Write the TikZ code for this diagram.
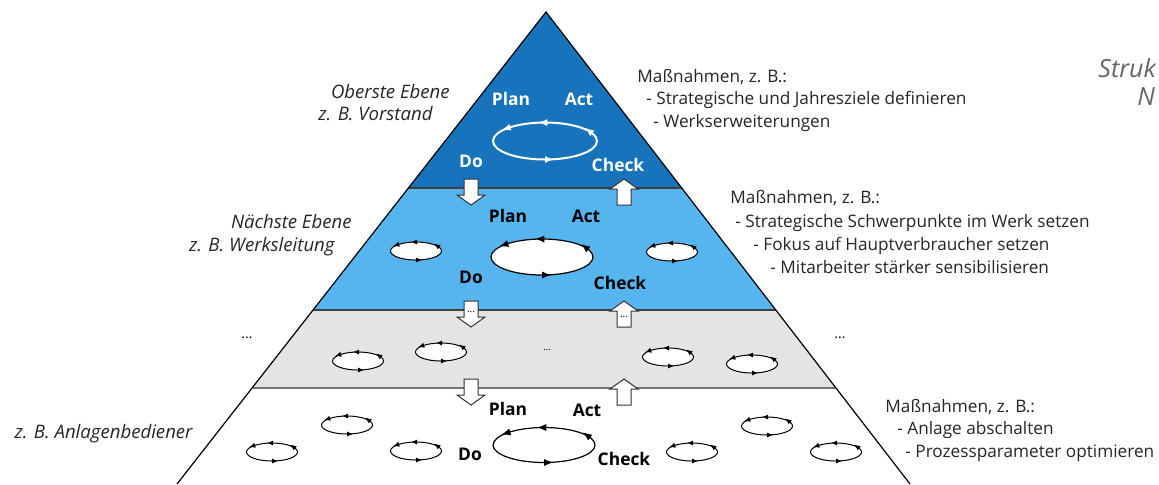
\documentclass[tikz,border=0pt]{standalone}
\usepackage{fontspec}
\setmainfont{Open Sans}
\usetikzlibrary{arrows.meta,decorations.markings}

\definecolor{topblue}{RGB}{22,115,188}
\definecolor{midblue}{RGB}{86,180,238}
\definecolor{lvlgray}{RGB}{228,228,228}

\begin{document}
\begin{tikzpicture}[
    x=0.5pt, y=-0.5pt,
    txt/.style={font=\fontsize{8.6}{10}\selectfont, text=black!85, anchor=base west, inner sep=0},
    lvl/.style={font=\fontsize{9.3}{11}\selectfont\itshape, text=black!85, anchor=base east, inner sep=0},
    pdca/.style={font=\fontsize{8.7}{10}\selectfont\bfseries, anchor=base, inner sep=0},
    dots/.style={font=\fontsize{5}{6}\selectfont, inner sep=0},
    blk/.style={draw=black!80, fill=white, line width=0.5pt},
    cyc/.style={postaction={decorate}, decoration={markings,
        mark=at position 0.25 with {\arrow{<}},
        mark=at position 0.6 with {\arrow{<}},
        mark=at position 0.76 with {\arrow{<}},
        mark=at position 0.96 with {\arrow{<}}}},
    minicycle/.style={cyc, draw=black, fill=white, line width=0.5pt, >={Latex[length=3pt,width=2.6pt]}},
    maincycle/.style={cyc, draw=black, line width=0.6pt, >={Latex[length=4.5pt,width=3.6pt]}}
]
\useasboundingbox (0,0) rectangle (1159,484);
\fill[white] (0,0) rectangle (1159,484);

\coordinate (apex) at (546,12);
\coordinate (bl) at (177,484);
\coordinate (br) at (910,484);

% levels of the pyramid
\begin{scope}
  \clip (apex) -- (bl) -- (br) -- cycle;
  \fill[topblue] (0,0) rectangle (1159,188);
  \fill[midblue] (0,188) rectangle (1159,310);
  \fill[lvlgray] (0,310) rectangle (1159,388);
  \draw[black!75, line width=0.6pt] (0,188) -- (1159,188);
  \draw[black!75, line width=0.6pt] (0,310) -- (1159,310);
  \draw[black!55, line width=0.6pt] (0,388) -- (1159,388);
\end{scope}
\draw[line width=0.6pt] (bl) -- (apex) -- (br);

% block arrows between the levels
\foreach \b in {188,310,388} {
  \draw[blk] (464,\b-9) -- (478,\b-9) -- (478,\b+7) -- (485,\b+7) -- (471,\b+17) -- (457,\b+7) -- (464,\b+7) -- cycle;
  \draw[blk] (617,\b+17) -- (631,\b+17) -- (631,\b+1) -- (638,\b+1) -- (624,\b-9) -- (610,\b+1) -- (617,\b+1) -- cycle;
}
\node[dots] (dn2) at (471,312) {...};
\node[dots] (up2) at (624,317) {...};

% PDCA cycles
\draw[maincycle, draw=white, line width=1pt] (545,141) ellipse [x radius=52, y radius=18.5];
\draw[maincycle, fill=white] (542,257) ellipse [x radius=51, y radius=18];
\draw[maincycle] (544,445) ellipse [x radius=51, y radius=17.5];
\foreach \cx/\cy in {416/251, 672/252,
                     358/361, 441/352, 668/357, 752/364,
                     272/452, 347/425, 416/451, 692/452, 767/426, 836/452}
  \draw[minicycle] (\cx,\cy) ellipse [x radius=25.5, y radius=9];

% PDCA labels
\node[pdca, text=white] (plan1) at (511,105) {Plan};
\node[pdca, text=white] (act1) at (579,105) {Act};
\node[pdca, text=white] (do1) at (471,167) {Do};
\node[pdca, text=white] (check1) at (618,171) {Check};
\node[pdca] (plan2) at (508,222) {Plan};
\node[pdca] (act2) at (586,222) {Act};
\node[pdca] (do2) at (471,283) {Do};
\node[pdca] (check2) at (620,289) {Check};
\node[pdca] (plan4) at (508,415) {Plan};
\node[pdca] (act4) at (587,416) {Act};
\node[pdca] (do4) at (470,460) {Do};
\node[pdca] (check4) at (624,465) {Check};

% level names
\node[lvl] (top1) at (450,98) {Oberste Ebene};
\node[lvl] (top2) at (433,120) {z. B. Vorstand};
\node[lvl] (next1) at (352,228) {Nächste Ebene};
\node[lvl] (next2) at (335,251) {z. B. Werksleitung};
\node[lvl] (base1) at (193,438) {z. B. Anlagenbediener};
\node[dots, font=\fontsize{7}{8}\selectfont] (gapl) at (247,338) {...};
\node[dots, font=\fontsize{7}{8}\selectfont] (gapr) at (840,338) {...};
\node[dots] (gapm) at (547,350) {...};

% measures per level
\node[txt] (m1a) at (637,82) {Maßnahmen, z. B.:};
\node[txt] (m1b) at (646,104) {- Strategische und Jahresziele definieren};
\node[txt] (m1c) at (653,127) {- Werkserweiterungen};
\node[txt] (m2a) at (730,203) {Maßnahmen, z. B.:};
\node[txt] (m2b) at (735,227) {- Strategische Schwerpunkte im Werk setzen};
\node[txt] (m2c) at (753,250) {- Fokus auf Hauptverbraucher setzen};
\node[txt] (m2d) at (770,273) {- Mitarbeiter stärker sensibilisieren};
\node[txt] (m3a) at (885,412) {Maßnahmen, z. B.:};
\node[txt] (m3b) at (897,434) {- Anlage abschalten};
\node[txt] (m3c) at (905,457) {- Prozessparameter optimieren};

% side title
\node[txt, font=\fontsize{12.5}{14}\selectfont\itshape, text=black!60] (title1) at (1098,77) {Struk};
\node[txt, font=\fontsize{12.5}{14}\selectfont\itshape, text=black!60] (title2) at (1137,105) {N};
\end{tikzpicture}
\end{document}
